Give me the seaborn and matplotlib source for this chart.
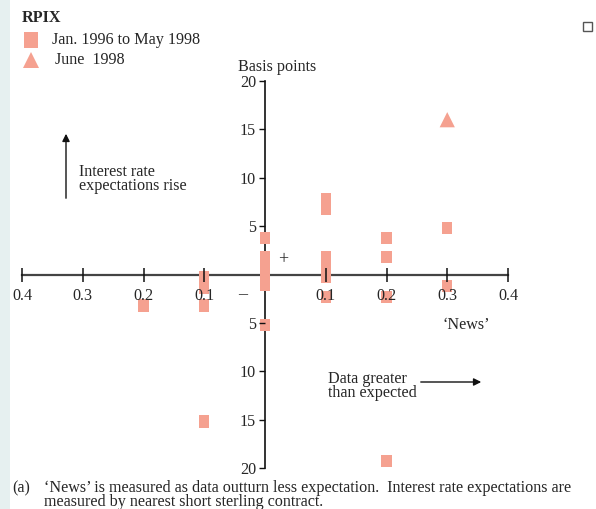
import matplotlib
matplotlib.use("Agg")
import matplotlib.pyplot as plt
import seaborn as sns
import pandas as pd
from matplotlib.patches import Rectangle, FancyArrowPatch

# ---- data ----
news_jan = [-0.2, -0.1, -0.1, -0.1, -0.1,
            0.0, 0.0, 0.0, 0.0, 0.0, 0.0,
            0.1, 0.1, 0.1, 0.1, 0.1, 0.1,
            0.2, 0.2, 0.2, 0.2,
            0.3, 0.3]
bp_jan = [-3.2, -0.3, -1.4, -3.2, -15.2,
          3.8, 1.8, 0.9, 0.0, -1.1, -5.2,
          7.8, 6.8, 1.8, 0.8, -0.2, -2.3,
          3.8, 1.8, -2.3, -19.3,
          4.8, -1.2]
news_jun = [0.3]
bp_jun = [16.0]

x_ticks = [-0.4, -0.3, -0.2, -0.1, 0.1, 0.2, 0.3, 0.4]
x_labels = ["0.4", "0.3", "0.2", "0.1", "0.1", "0.2", "0.3", "0.4"]
y_ticks = [-20, -15, -10, -5, 5, 10, 15, 20]
y_labels = ["20", "15", "10", "5", "5", "10", "15", "20"]

legend_labels = ["Jan. 1996 to May 1998", "June  1998"]
title = "RPIX"
footnote = ("\u2018News\u2019 is measured as data outturn less expectation.  Interest rate expectations are\n"
            "measured by nearest short sterling contract.")

df_jan = pd.DataFrame({"news": news_jan, "bp": bp_jan})
df_jun = pd.DataFrame({"news": news_jun, "bp": bp_jun})

# ---- style ----
sns.set_style("white")
plt.rcParams["font.family"] = ["Liberation Serif", "DejaVu Serif"]

FS = 11.6
W, H = 596, 509
fig = plt.figure(figsize=(W / 100, H / 100), dpi=100)

def fx(px):
    return px / W

def fy(py):
    return 1 - py / H

ax = fig.add_axes([fx(22), fy(468), (508 - 22) / W, (468 - 81) / H])
ax.set_facecolor("none")

salmon = "#F5A190"
rect = [(-0.42, -0.5), (0.42, -0.5), (0.42, 0.5), (-0.42, 0.5)]

sns.scatterplot(data=df_jan, x="news", y="bp", ax=ax, marker=rect, s=78,
                color=salmon, edgecolor="none", linewidth=0, zorder=3)
sns.scatterplot(data=df_jun, x="news", y="bp", ax=ax, marker="^", s=120,
                color=salmon, edgecolor="none", linewidth=0, zorder=3)

ax.set_xlim(-0.4, 0.4)
ax.set_ylim(-20, 20)
ax.set_xlabel("")
ax.set_ylabel("")

for s in ["top", "right"]:
    ax.spines[s].set_visible(False)
ax.spines["left"].set_position(("data", 0))
ax.spines["bottom"].set_position(("data", 0))
ax.spines["bottom"].set_color("#444444")
ax.spines["bottom"].set_linewidth(1.6)
ax.spines["left"].set_color("#111111")
ax.spines["left"].set_linewidth(1.2)

ax.set_xticks(x_ticks)
ax.set_xticklabels(x_labels)
ax.set_yticks(y_ticks)
ax.set_yticklabels(y_labels)
ax.tick_params(axis="x", direction="inout", length=10, width=1.1, color="#111111",
               labelsize=FS, pad=5, bottom=True)
ax.tick_params(axis="y", direction="out", length=4, width=1.0, color="#111111",
               labelsize=FS, pad=2.5, left=True)
ax.xaxis.set_zorder(4)
ax.yaxis.set_zorder(4)

# ---- annotations ----
fig.text(fx(22), fy(18), title, fontsize=FS, fontweight="bold", va="center", ha="left")
fig.add_artist(plt.Line2D([fx(30.5)], [fy(40)], marker=rect, markersize=12,
                          color=salmon, markeredgewidth=0, linestyle="none"))
fig.add_artist(plt.Line2D([fx(30.5)], [fy(60)], marker="^", markersize=12,
                          color=salmon, markeredgewidth=0, linestyle="none"))
fig.text(fx(52), fy(40), legend_labels[0], fontsize=FS, va="center", ha="left")
fig.text(fx(55), fy(60), legend_labels[1], fontsize=FS, va="center", ha="left")

fig.text(fx(277), fy(67), "Basis points", fontsize=FS, va="center", ha="center")
fig.text(fx(466), fy(325), "\u2018News\u2019", fontsize=FS, va="center", ha="center")
fig.text(fx(283), fy(260), "+", fontsize=13, va="center", ha="center")
fig.text(fx(243), fy(295), "\u2013", fontsize=13, va="center", ha="center")

fig.text(fx(79), fy(179), "Interest rate\nexpectations rise", fontsize=FS,
         va="center", ha="left", linespacing=0.9)
fig.add_artist(FancyArrowPatch((fx(66), fy(201)), (fx(66), fy(131)),
                               transform=fig.transFigure, arrowstyle="-|>",
                               mutation_scale=11, color="#111111", lw=1.0))
fig.text(fx(328), fy(386), "Data greater\nthan expected", fontsize=FS,
         va="center", ha="left", linespacing=0.9)
fig.add_artist(FancyArrowPatch((fx(418), fy(382)), (fx(484), fy(382)),
                               transform=fig.transFigure, arrowstyle="-|>",
                               mutation_scale=11, color="#111111", lw=1.0))

fig.text(fx(12), fy(488), "(a)", fontsize=FS, va="center", ha="left")
fig.text(fx(44), fy(495), footnote, fontsize=FS, va="center", ha="left",
         linespacing=0.9)

# decorative elements
fig.patches.append(Rectangle((0, 0), fx(10), 1, transform=fig.transFigure,
                             facecolor="#e6f0f0", edgecolor="none", zorder=0))
fig.patches.append(Rectangle((fx(583), fy(31)), fx(9), 9 / H, transform=fig.transFigure,
                             facecolor="white", edgecolor="#555555", lw=1.0, zorder=1))

fig.savefig("out.png", dpi=100)
